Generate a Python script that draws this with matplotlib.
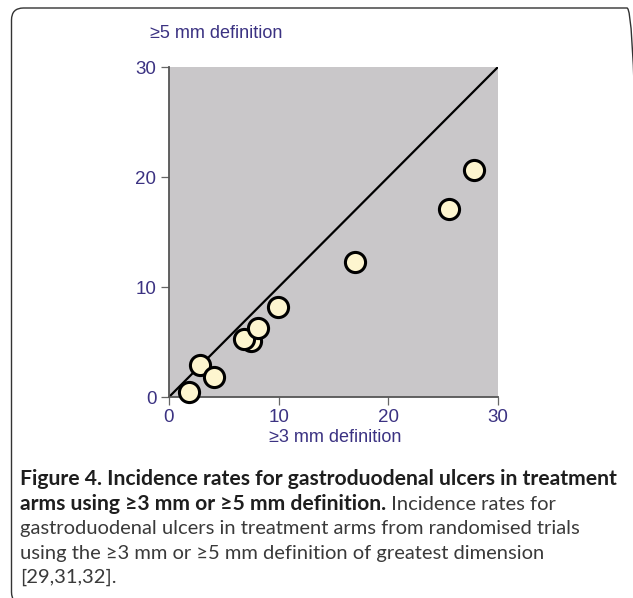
import matplotlib
matplotlib.use("Agg")
import matplotlib.pyplot as plt
from matplotlib.patches import FancyBboxPatch
from matplotlib.transforms import IdentityTransform

# Datos (tasas de incidencia, %)
def_3mm = [7.5, 1.8, 2.8, 4.1, 6.8, 8.1, 9.9, 17.0, 25.5, 27.8]
def_5mm = [5.1, 0.45, 2.9, 1.85, 5.25, 6.25, 8.2, 12.3, 17.1, 20.6]
linea_x = [0, 30]
linea_y = [0, 30]
ticks = [0, 10, 20, 30]

titulo_y = "≥5 mm definition"
titulo_x = "≥3 mm definition"
cap_bold1 = "Figure 4. Incidence rates for gastroduodenal ulcers in treatment"
cap_bold2 = "arms using ≥3 mm or ≥5 mm definition."
cap_reg2 = " Incidence rates for"
cap_reg3 = "gastroduodenal ulcers in treatment arms from randomised trials"
cap_reg4 = "using the ≥3 mm or ≥5 mm definition of greatest dimension"
cap_reg5 = "[29,31,32]."

W, H = 633, 598
azul = "#3b3282"
fuente_ej = ["Liberation Sans", "DejaVu Sans"]
fuente_cap = ["Lato", "Noto Sans", "DejaVu Sans"]

fig = plt.figure(figsize=(W / 100, H / 100), dpi=100)
fig.patch.set_facecolor("white")

ax = fig.add_axes([169 / W, 1 - 397 / H, 329 / W, 330 / H])
ax.set_facecolor("#c9c7c9")
ax.plot(linea_x, linea_y, color="black", lw=1.6, zorder=2)
ax.plot(def_3mm, def_5mm, "o", ms=14.5, mfc="#fdf5cf", mec="black", mew=2.2,
        ls="none", zorder=3, clip_on=False)
ax.set_xlim(0, 30)
ax.set_ylim(0, 30)
ax.set_xticks(ticks)
ax.set_yticks(ticks)
for s in ["top", "right"]:
    ax.spines[s].set_visible(False)
for s in ["left", "bottom"]:
    ax.spines[s].set_color("#555555")
    ax.spines[s].set_linewidth(1.3)
ax.tick_params(direction="out", length=6, width=0.9, color="#666666",
               labelcolor=azul, labelsize=13.5, pad=3)
for lab in ax.get_xticklabels() + ax.get_yticklabels():
    lab.set_family(fuente_ej)

fig.text(150 / W, 1 - 33 / H, titulo_y, color=azul, fontsize=13,
         family=fuente_ej, ha="left", va="center")
fig.text(335 / W, 1 - 437 / H, titulo_x, color=azul, fontsize=13,
         family=fuente_ej, ha="center", va="center")

# marco redondeado (el borde derecho queda fuera de la imagen)
marco = FancyBboxPatch((11.5, -6), 627.5, 596, boxstyle="round,pad=0,rounding_size=12",
                       transform=IdentityTransform(), fill=False, ec="#333333", lw=1.0)
fig.add_artist(marco)

# pie de figura: ajustar tamano para que la primera linea mida ~593 px
renderer = fig.canvas.get_renderer()
t = fig.text(20 / W, 1 - 485 / H, cap_bold1, fontsize=12, family=fuente_cap,
             weight="bold", color="#1e1e1e", va="baseline")
ancho = t.get_window_extent(renderer).width
fs = 12 * 593 / ancho
t.set_fontsize(fs)
fs_r = fs * 0.955

base = [485, 510, 534, 559, 583]
t2 = fig.text(20 / W, 1 - base[1] / H, cap_bold2, fontsize=fs, family=fuente_cap,
              weight="bold", color="#1e1e1e", va="baseline")
w2 = t2.get_window_extent(renderer).width
fig.text((20 + w2) / W, 1 - base[1] / H, cap_reg2, fontsize=fs_r, family=fuente_cap,
         color="#3a3a3a", va="baseline")
fig.text(20 / W, 1 - base[2] / H, cap_reg3, fontsize=fs_r, family=fuente_cap,
         color="#3a3a3a", va="baseline")
fig.text(20 / W, 1 - base[3] / H, cap_reg4, fontsize=fs_r, family=fuente_cap,
         color="#3a3a3a", va="baseline")
fig.text(20 / W, 1 - base[4] / H, cap_reg5, fontsize=fs_r, family=fuente_cap,
         color="#3a3a3a", va="baseline")

fig.savefig("out.png", dpi=100)
